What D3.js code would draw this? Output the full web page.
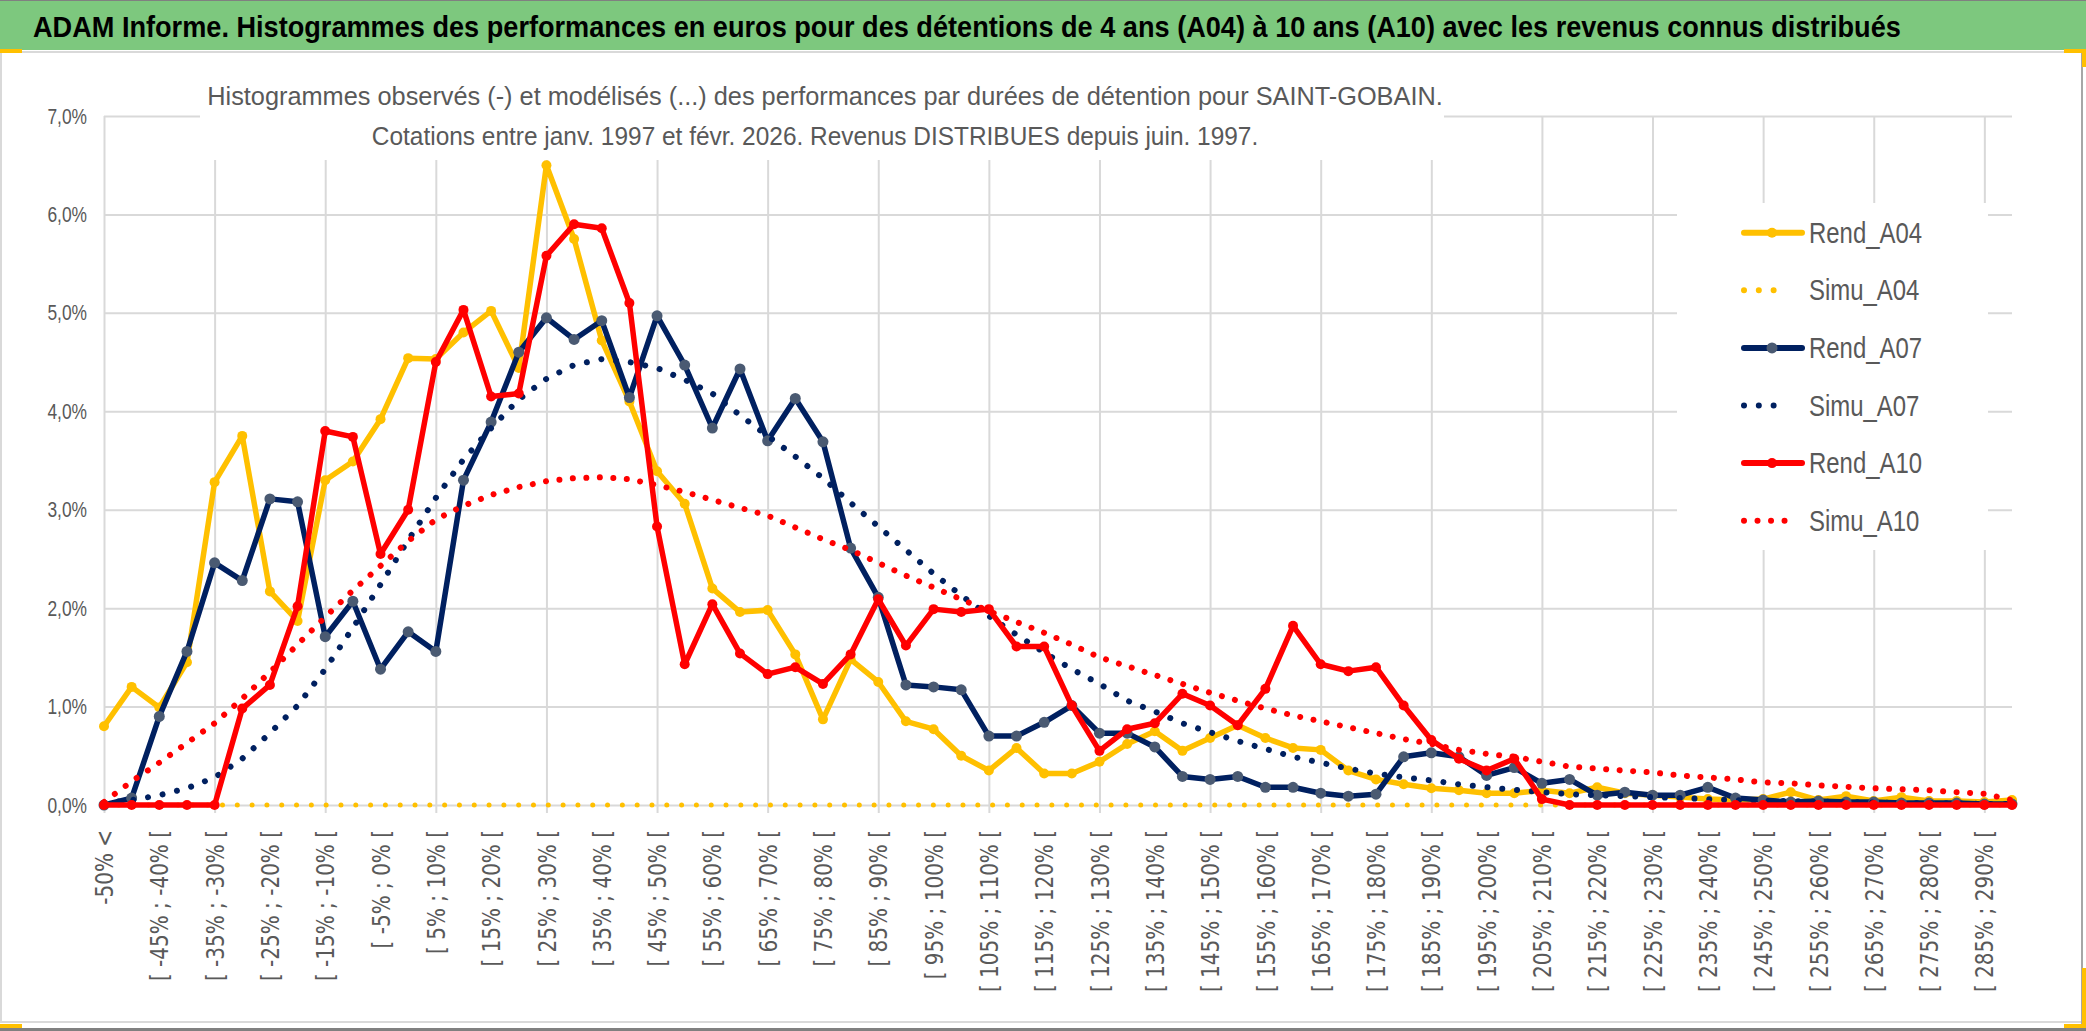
<!DOCTYPE html>
<html lang="fr">
<head>
<meta charset="UTF-8" />
<title>ADAM Informe - SAINT-GOBAIN</title>
<style>
  body { margin: 0; background: #fff; overflow: hidden; }
  svg { display: block; }
  .grid line { stroke: #d9d9d9; stroke-width: 2; }
  .grid path, .axis path { display: none; }
  .axis text { fill: #595959; }
</style>
</head>
<body>

<svg width="2086" height="1031"></svg>

<script src="https://d3js.org/d3.v7.min.js"></script>
<script>
// Categories (5% bins), tick labels shown every 2nd
const categories = [
  "-50% <", "[ -50% ; -45% [", "[ -45% ; -40% [", "[ -40% ; -35% [", "[ -35% ; -30% [",
  "[ -30% ; -25% [", "[ -25% ; -20% [", "[ -20% ; -15% [", "[ -15% ; -10% [", "[ -10% ; -5% [",
  "[ -5% ; 0% [", "[ 0% ; 5% [", "[ 5% ; 10% [", "[ 10% ; 15% [", "[ 15% ; 20% [",
  "[ 20% ; 25% [", "[ 25% ; 30% [", "[ 30% ; 35% [", "[ 35% ; 40% [", "[ 40% ; 45% [",
  "[ 45% ; 50% [", "[ 50% ; 55% [", "[ 55% ; 60% [", "[ 60% ; 65% [", "[ 65% ; 70% [",
  "[ 70% ; 75% [", "[ 75% ; 80% [", "[ 80% ; 85% [", "[ 85% ; 90% [", "[ 90% ; 95% [",
  "[ 95% ; 100% [", "[ 100% ; 105% [", "[ 105% ; 110% [", "[ 110% ; 115% [", "[ 115% ; 120% [",
  "[ 120% ; 125% [", "[ 125% ; 130% [", "[ 130% ; 135% [", "[ 135% ; 140% [", "[ 140% ; 145% [",
  "[ 145% ; 150% [", "[ 150% ; 155% [", "[ 155% ; 160% [", "[ 160% ; 165% [", "[ 165% ; 170% [",
  "[ 170% ; 175% [", "[ 175% ; 180% [", "[ 180% ; 185% [", "[ 185% ; 190% [", "[ 190% ; 195% [",
  "[ 195% ; 200% [", "[ 200% ; 205% [", "[ 205% ; 210% [", "[ 210% ; 215% [", "[ 215% ; 220% [",
  "[ 220% ; 225% [", "[ 225% ; 230% [", "[ 230% ; 235% [", "[ 235% ; 240% [", "[ 240% ; 245% [",
  "[ 245% ; 250% [", "[ 250% ; 255% [", "[ 255% ; 260% [", "[ 260% ; 265% [", "[ 265% ; 270% [",
  "[ 270% ; 275% [", "[ 275% ; 280% [", "[ 280% ; 285% [", "[ 285% ; 290% [", "[ 290% ; 295% ["
];

const yTicks = [0, 1, 2, 3, 4, 5, 6, 7];

// values in %
const rendA04 = [
  0.80, 1.20, 0.99, 1.45, 3.28, 3.75, 2.17, 1.87, 3.30, 3.49,
  3.92, 4.54, 4.53, 4.80, 5.02, 4.44, 6.50, 5.75, 4.72, 4.10,
  3.39, 3.06, 2.20, 1.96, 1.98, 1.53, 0.87, 1.48, 1.25, 0.85,
  0.77, 0.50, 0.35, 0.58, 0.32, 0.32, 0.44, 0.62, 0.75, 0.55,
  0.68, 0.81, 0.68, 0.58, 0.56, 0.35, 0.26, 0.21, 0.17, 0.15,
  0.12, 0.12, 0.15, 0.12, 0.18, 0.12, 0.10, 0.08, 0.06, 0.05,
  0.06, 0.13, 0.05, 0.09, 0.04, 0.08, 0.04, 0.04, 0.03, 0.05
];
const simuA04 = [
  0, 0, 0, 0, 0, 0, 0, 0, 0, 0,
  0, 0, 0, 0, 0, 0, 0, 0, 0, 0,
  0, 0, 0, 0, 0, 0, 0, 0, 0, 0,
  0, 0, 0, 0, 0, 0, 0, 0, 0, 0,
  0, 0, 0, 0, 0, 0, 0, 0, 0, 0,
  0, 0, 0, 0, 0, 0, 0, 0, 0, 0,
  0, 0, 0, 0, 0, 0, 0, 0, 0, 0
];
const rendA07 = [
  0.00, 0.07, 0.90, 1.56, 2.46, 2.28, 3.11, 3.08, 1.71, 2.07,
  1.38, 1.76, 1.56, 3.30, 3.89, 4.60, 4.95, 4.73, 4.92, 4.14,
  4.97, 4.47, 3.83, 4.43, 3.70, 4.13, 3.69, 2.61, 2.11, 1.22,
  1.20, 1.17, 0.70, 0.70, 0.84, 1.01, 0.73, 0.73, 0.59, 0.29,
  0.26, 0.29, 0.18, 0.18, 0.12, 0.09, 0.11, 0.49, 0.53, 0.49,
  0.30, 0.38, 0.22, 0.26, 0.10, 0.13, 0.10, 0.10, 0.18, 0.07,
  0.05, 0.03, 0.04, 0.03, 0.03, 0.02, 0.02, 0.02, 0.01, 0.01
];
const simuA07 = [
  0.02, 0.05, 0.10, 0.17, 0.28, 0.47, 0.73, 1.01, 1.38, 1.80,
  2.24, 2.69, 3.12, 3.51, 3.83, 4.12, 4.33, 4.47, 4.53, 4.50,
  4.44, 4.32, 4.18, 3.96, 3.75, 3.54, 3.32, 3.07, 2.83, 2.59,
  2.35, 2.13, 1.92, 1.73, 1.55, 1.38, 1.23, 1.06, 0.95, 0.83,
  0.74, 0.65, 0.57, 0.49, 0.43, 0.37, 0.32, 0.28, 0.25, 0.21,
  0.18, 0.155, 0.13, 0.11, 0.10, 0.09, 0.08, 0.07, 0.06, 0.05,
  0.045, 0.04, 0.035, 0.03, 0.025, 0.02, 0.02, 0.015, 0.01, 0.01
];
const rendA10 = [
  0.00, 0.00, 0.00, 0.00, 0.00, 0.98, 1.22, 2.02, 3.80, 3.74,
  2.55, 3.00, 4.50, 5.03, 4.15, 4.18, 5.58, 5.90, 5.86, 5.10,
  2.83, 1.43, 2.04, 1.54, 1.33, 1.40, 1.23, 1.53, 2.09, 1.62,
  1.99, 1.96, 1.99, 1.61, 1.61, 1.01, 0.55, 0.77, 0.83, 1.13,
  1.01, 0.81, 1.18, 1.82, 1.43, 1.36, 1.40, 1.01, 0.66, 0.47,
  0.35, 0.47, 0.06, 0.00, 0.00, 0.00, 0.00, 0.00, 0.00, 0.00,
  0.00, 0.00, 0.00, 0.00, 0.00, 0.00, 0.00, 0.00, 0.00, 0.00
];
const simuA10 = [
  0.03, 0.24, 0.43, 0.63, 0.83, 1.08, 1.35, 1.63, 1.91, 2.18,
  2.43, 2.68, 2.90, 3.04, 3.15, 3.23, 3.29, 3.32, 3.33, 3.31,
  3.25, 3.18, 3.10, 3.02, 2.94, 2.82, 2.70, 2.59, 2.46, 2.33,
  2.21, 2.09, 1.97, 1.86, 1.75, 1.63, 1.50, 1.41, 1.32, 1.23,
  1.14, 1.06, 0.98, 0.91, 0.85, 0.79, 0.73, 0.67, 0.62, 0.56,
  0.52, 0.49, 0.44, 0.39, 0.37, 0.35, 0.33, 0.30, 0.28, 0.26,
  0.23, 0.22, 0.20, 0.185, 0.17, 0.16, 0.15, 0.13, 0.115, 0.05
];

const seriesNames = ["Rend_A04", "Simu_A04", "Rend_A07", "Simu_A07", "Rend_A10", "Simu_A10"];
const seriesValues = [rendA04, simuA04, rendA07, simuA07, rendA10, simuA10];

// styles per series
const styles = [
  { color: "#FFC000", dotted: false, marker: "#FFC000", r: 5 },
  { color: "#FFC000", dotted: true, gap: 14.8, w: 5 },
  { color: "#002060", dotted: false, marker: "#4A5A72", r: 5.5 },
  { color: "#002060", dotted: true, gap: 14.8, w: 6 },
  { color: "#FF0000", dotted: false, marker: "#FF0000", r: 5 },
  { color: "#FF0000", dotted: true, gap: 13.5, w: 6 }
];

const font = "'Liberation Sans Narrow', 'Liberation Sans', Arial, sans-serif";
const svg = d3.select("svg");

const plotLeft = 104, plotRight = 2012, plotTop = 116, plotBottom = 805;
const x = d3.scalePoint().domain(categories).range([plotLeft, plotRight]);
const y = d3.scaleLinear().domain([0, 7]).range([plotBottom, plotTop]);

// squeeze a text horizontally so it spans `width` (the reference uses a condensed face)
function fitText(sel, tx, ty, width) {
  const w = sel.node().getComputedTextLength();
  sel.attr("x", 0).attr("y", 0)
    .attr("transform", `translate(${tx},${ty}) scale(${Math.min(1, width / w)},1)`);
}

// chart frame + header
svg.append("rect").attr("x", 1).attr("y", 52).attr("width", 2081).attr("height", 970)
  .attr("fill", "#fff").attr("stroke", "#d9d9d9").attr("stroke-width", 2);
svg.append("rect").attr("x", 0).attr("y", 0).attr("width", 2086).attr("height", 50).attr("fill", "#7DC87E");
svg.append("line").attr("x1", 0).attr("x2", 2086).attr("y1", 0.5).attr("y2", 0.5).attr("stroke", "#808080");
svg.append("line").attr("x1", 0).attr("x2", 2086).attr("y1", 1029.5).attr("y2", 1029.5)
  .attr("stroke", "#808080").attr("stroke-width", 3);
svg.append("line").attr("x1", 2082).attr("x2", 2082).attr("y1", 52).attr("y2", 1028)
  .attr("stroke", "#a6a6a6").attr("stroke-width", 2);

// selection handles (small yellow marks)
[[0, 49, 22, 4], [2064, 49, 22, 4], [2082, 49, 4, 18], [2082, 968, 4, 60], [2064, 1024, 22, 4], [0, 1024, 22, 4]]
  .forEach(r => svg.append("rect").attr("x", r[0]).attr("y", r[1]).attr("width", r[2]).attr("height", r[3]).attr("fill", "#FFC000"));

const title = svg.append("text")
  .attr("font-family", font).attr("font-weight", "bold").attr("font-size", 29)
  .attr("fill", "#000")
  .text("ADAM Informe. Histogrammes des performances en euros pour des détentions de 4 ans (A04) à 10 ans (A10) avec les revenus connus distribués");
fitText(title, 33, 37, 1868);

// horizontal grid
svg.append("g").attr("class", "grid")
  .attr("transform", `translate(${plotLeft},0)`)
  .call(d3.axisLeft(y).tickValues(yTicks).tickSize(-(plotRight - plotLeft)).tickFormat(""));

// vertical grid, every 4 categories
svg.append("g").attr("class", "grid")
  .attr("transform", `translate(0,${plotBottom + 8})`)
  .call(d3.axisBottom(x).tickValues(categories.filter((d, i) => i % 4 === 0))
    .tickSize(-(plotBottom + 8 - plotTop)).tickFormat(""));

// y axis labels
const fr = d3.formatLocale({ decimal: ",", thousands: " ", grouping: [3], currency: ["", " €"] });
const yAxis = svg.append("g").attr("class", "axis")
  .attr("transform", `translate(${plotLeft},0)`)
  .call(d3.axisLeft(y).tickValues(yTicks).tickSize(0).tickFormat(d => fr.format(".1f")(d) + "%"));
yAxis.selectAll("text")
  .attr("font-family", font).attr("font-size", 22)
  .attr("x", -17 / 0.79)
  .attr("transform", "scale(0.79,1)");

// x axis labels, rotated
const xAxis = svg.append("g").attr("class", "axis")
  .attr("transform", `translate(0,${plotBottom})`)
  .call(d3.axisBottom(x).tickValues(categories.filter((d, i) => i % 2 === 0)).tickSize(0));
xAxis.selectAll("text")
  .attr("font-family", "'DejaVu Sans', Verdana, sans-serif").attr("font-size", 20)
  .attr("transform", "rotate(-90) scale(1,1.2)")
  .attr("text-anchor", "end")
  .attr("x", -25).attr("y", 0).attr("dy", "0.36em");

// subtitle box (covers grid)
svg.append("rect").attr("x", 200).attr("y", 56).attr("width", 1244).attr("height", 104).attr("fill", "#fff");
const sub = svg.append("g").attr("font-family", font).attr("font-size", 26).attr("fill", "#595959")
  .attr("text-anchor", "middle");
fitText(sub.append("text")
  .text("Histogrammes observés (-) et modélisés (...) des performances par durées de détention pour SAINT-GOBAIN."),
  825, 105, 1236);
fitText(sub.append("text")
  .text("Cotations entre janv. 1997 et févr. 2026. Revenus DISTRIBUES depuis juin. 1997."),
  815, 145, 887);

// legend box (covers grid)
svg.append("rect").attr("x", 1677).attr("y", 203).attr("width", 311).attr("height", 347).attr("fill", "#fff");

// series
const line = d3.line()
  .x((d, i) => x(categories[i]))
  .y(d => y(d));

seriesValues.forEach((vals, s) => {
  const st = styles[s];
  const g = svg.append("g");
  if (st.dotted) {
    g.append("path").datum(vals)
      .attr("d", line)
      .attr("fill", "none")
      .attr("stroke", st.color)
      .attr("stroke-width", st.w)
      .attr("stroke-linecap", "round")
      .attr("stroke-dasharray", `0.01 ${st.gap}`);
  } else {
    g.append("path").datum(vals)
      .attr("d", line)
      .attr("fill", "none")
      .attr("stroke", st.color)
      .attr("stroke-width", 5.5)
      .attr("stroke-linejoin", "round");
    g.selectAll("circle").data(vals).join("circle")
      .attr("cx", (d, i) => x(categories[i]))
      .attr("cy", d => y(d))
      .attr("r", st.r)
      .attr("fill", st.marker);
  }
});

// legend
const legend = svg.append("g");
seriesNames.forEach((name, s) => {
  const st = styles[s];
  const cy = 232.7 + s * 57.6;
  if (st.dotted) {
    const len = s === 5 ? 54 : 44.4;
    legend.append("line")
      .attr("x1", 1744).attr("x2", 1744 + len).attr("y1", cy).attr("y2", cy)
      .attr("stroke", st.color).attr("stroke-width", 6)
      .attr("stroke-linecap", "round").attr("stroke-dasharray", `0.01 ${st.gap}`);
  } else {
    legend.append("line")
      .attr("x1", 1744).attr("x2", 1802).attr("y1", cy).attr("y2", cy)
      .attr("stroke", st.color).attr("stroke-width", 6).attr("stroke-linecap", "round");
    legend.append("circle").attr("cx", 1772).attr("cy", cy).attr("r", st.r).attr("fill", st.marker);
  }
  legend.append("text")
    .attr("transform", `translate(1809,${cy + 10}) scale(0.825,1)`)
    .attr("font-family", font).attr("font-size", 29).attr("fill", "#595959")
    .text(name);
});
</script>

</body>
</html>
